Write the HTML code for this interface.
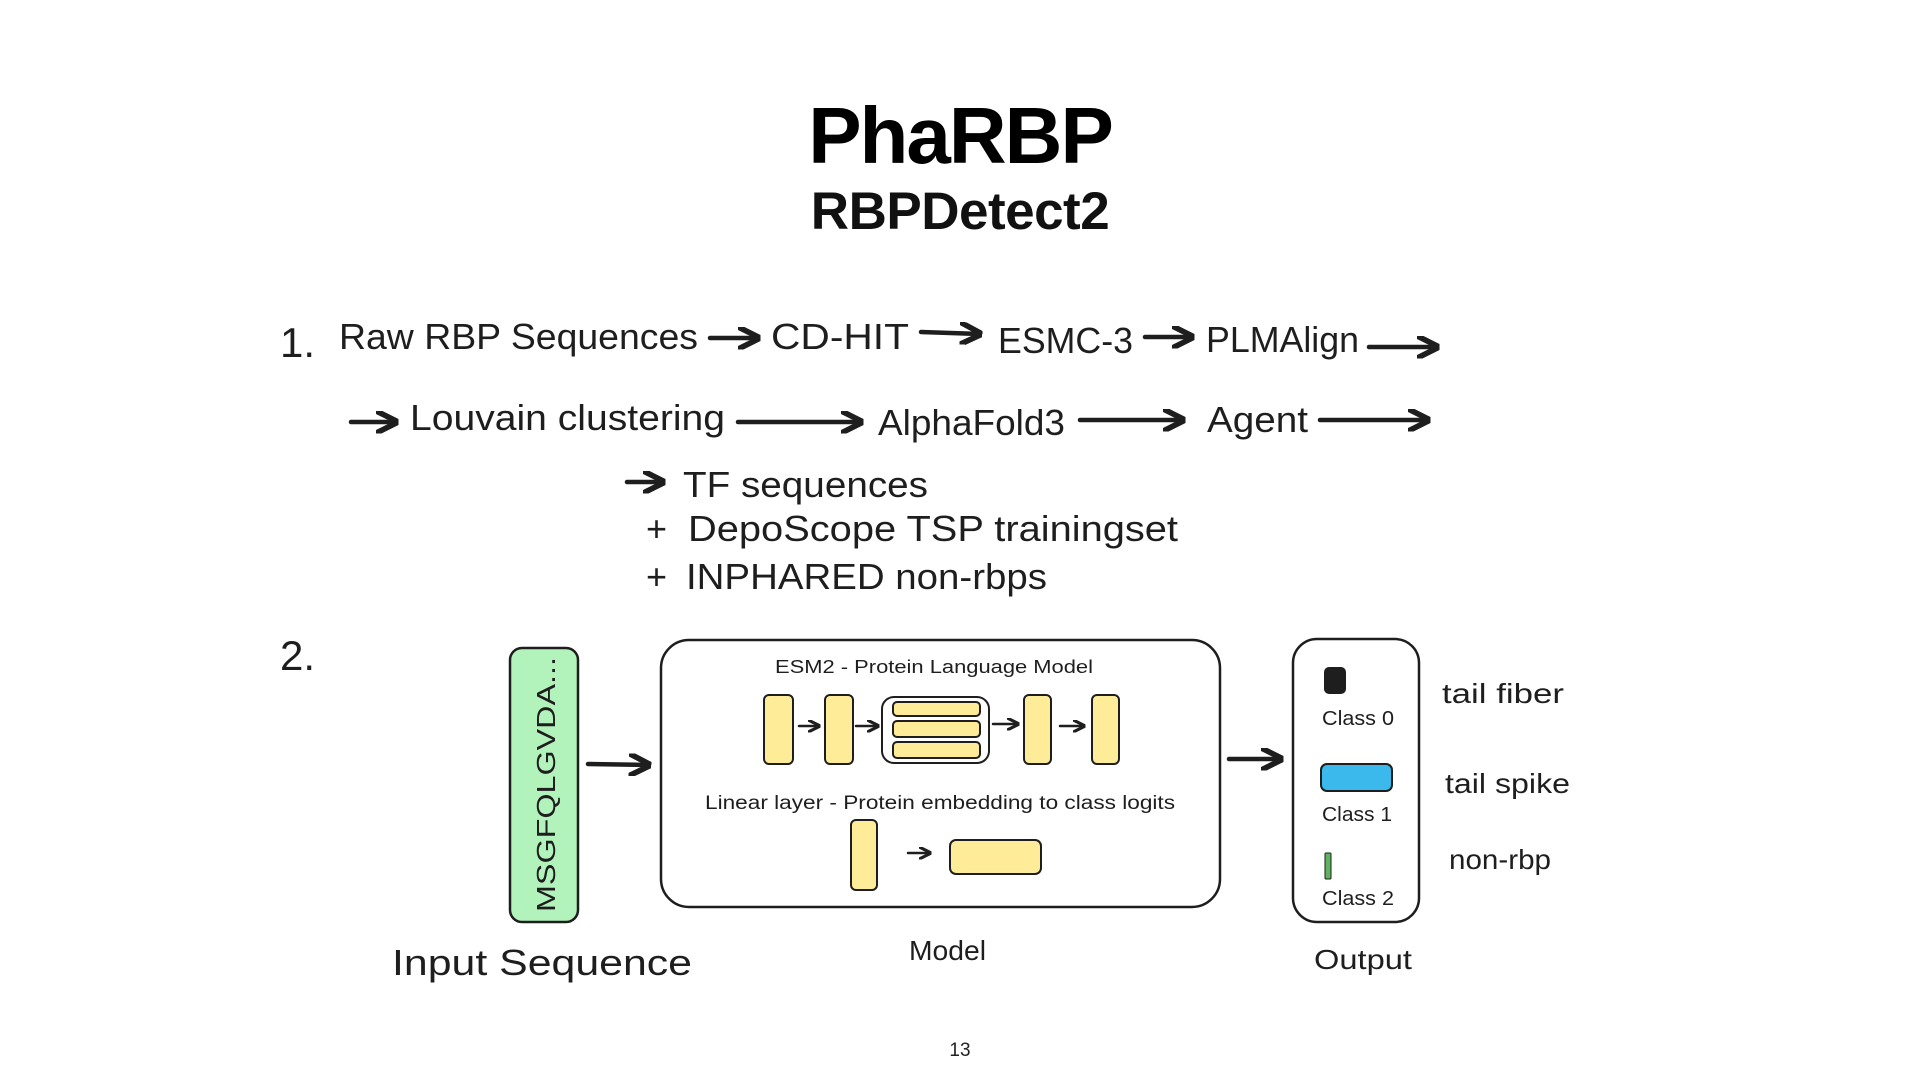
<!DOCTYPE html>
<html><head><meta charset="utf-8"><style>
html,body{margin:0;padding:0;background:#fff;}
svg{display:block}
.h{font-family:"Liberation Sans",sans-serif;fill:#1e1e1e;}
</style></head><body>
<svg width="1920" height="1080" viewBox="0 0 1920 1080" xmlns="http://www.w3.org/2000/svg">
<defs>
<marker id="ah" viewBox="0 0 10 10" refX="9" refY="5" markerWidth="5" markerHeight="5" orient="auto"><path d="M0,0 L10,5 L0,10" fill="none" stroke="#1e1e1e" stroke-width="2.5" stroke-linejoin="round"/></marker>
</defs>
<text x="960" y="163" text-anchor="middle" font-family="Liberation Sans" font-weight="bold" font-size="80" fill="#000" letter-spacing="-2">PhaRBP</text>
<text x="960" y="229" text-anchor="middle" font-family="Liberation Sans" font-weight="bold" font-size="53" fill="#111" letter-spacing="-0.5">RBPDetect2</text>

<g class="h" font-size="36">
<text x="280" y="357" font-size="42">1.</text>
<text x="339" y="349" textLength="359" lengthAdjust="spacingAndGlyphs">Raw RBP Sequences</text>
<text x="771" y="349" textLength="138" lengthAdjust="spacingAndGlyphs">CD-HIT</text>
<text x="998" y="353" textLength="135" lengthAdjust="spacingAndGlyphs">ESMC-3</text>
<text x="1206" y="352" textLength="153" lengthAdjust="spacingAndGlyphs">PLMAlign</text>
<text x="410" y="430" textLength="315" lengthAdjust="spacingAndGlyphs">Louvain clustering</text>
<text x="878" y="435" textLength="187" lengthAdjust="spacingAndGlyphs">AlphaFold3</text>
<text x="1207" y="432" textLength="101" lengthAdjust="spacingAndGlyphs">Agent</text>
<text x="683" y="497" textLength="245" lengthAdjust="spacingAndGlyphs">TF sequences</text>
<text x="646" y="541">+</text>
<text x="688" y="541" textLength="490" lengthAdjust="spacingAndGlyphs">DepoScope TSP trainingset</text>
<text x="646" y="589">+</text>
<text x="686" y="589" textLength="361" lengthAdjust="spacingAndGlyphs">INPHARED non-rbps</text>
<text x="280" y="670" font-size="42">2.</text>
<text x="392" y="975" textLength="300" lengthAdjust="spacingAndGlyphs">Input Sequence</text>
<text x="909" y="960" font-size="28" textLength="77" lengthAdjust="spacingAndGlyphs">Model</text>
<text x="1314" y="969" font-size="28" textLength="98" lengthAdjust="spacingAndGlyphs">Output</text>
<text x="1442" y="703" font-size="28" textLength="122" lengthAdjust="spacingAndGlyphs">tail fiber</text>
<text x="1445" y="793" font-size="28" textLength="125" lengthAdjust="spacingAndGlyphs">tail spike</text>
<text x="1449" y="869" font-size="28" textLength="102" lengthAdjust="spacingAndGlyphs">non-rbp</text>
</g>

<g stroke="#1e1e1e" stroke-width="4.5" fill="none" stroke-linecap="round" marker-end="url(#ah)">
<line x1="710" y1="338" x2="758" y2="338"/>
<line x1="921" y1="332" x2="980" y2="334"/>
<line x1="1145" y1="337" x2="1192" y2="337"/>
<line x1="1369" y1="347" x2="1437" y2="347"/>
<line x1="351" y1="422" x2="396" y2="422"/>
<line x1="738" y1="422" x2="861" y2="422"/>
<line x1="1080" y1="420" x2="1183" y2="420"/>
<line x1="1320" y1="420" x2="1428" y2="420"/>
<line x1="627" y1="482" x2="663" y2="482"/>
<line x1="588" y1="764" x2="649" y2="765"/>
<line x1="1229" y1="759" x2="1281" y2="759"/>
</g>

<rect x="510" y="648" width="68" height="274" rx="12" fill="#b2f2bb" stroke="#1e1e1e" stroke-width="2.5"/>
<text transform="translate(555,912) rotate(-90)" font-family="Liberation Sans" font-size="26" fill="#1e1e1e" textLength="255" lengthAdjust="spacingAndGlyphs">MSGFQLGVDA...</text>

<rect x="661" y="640" width="559" height="267" rx="28" fill="#fff" stroke="#1e1e1e" stroke-width="2.5"/>
<text x="934" y="673" text-anchor="middle" font-family="Liberation Sans" font-size="18" fill="#1e1e1e" textLength="318" lengthAdjust="spacingAndGlyphs">ESM2 - Protein Language Model</text>
<text x="940" y="809" text-anchor="middle" font-family="Liberation Sans" font-size="19" fill="#1e1e1e" textLength="470" lengthAdjust="spacingAndGlyphs">Linear layer - Protein embedding to class logits</text>
<g fill="#ffec99" stroke="#1e1e1e" stroke-width="2">
<rect x="764" y="695" width="29" height="69" rx="5"/>
<rect x="825" y="695" width="28" height="69" rx="5"/>
<rect x="1024" y="695" width="27" height="69" rx="5"/>
<rect x="1092" y="695" width="27" height="69" rx="5"/>
<rect x="882" y="697" width="107" height="66" rx="12" fill="#fff"/>
<rect x="893" y="702" width="87" height="14" rx="4"/>
<rect x="893" y="721" width="87" height="16" rx="4"/>
<rect x="893" y="742" width="87" height="16" rx="4"/>
<rect x="851" y="820" width="26" height="70" rx="5"/>
<rect x="950" y="840" width="91" height="34" rx="6"/>
</g>
<g stroke="#1e1e1e" stroke-width="2.5" fill="none" stroke-linecap="round" marker-end="url(#ah)">
<line x1="799" y1="726" x2="819" y2="726"/>
<line x1="856" y1="726" x2="878" y2="726"/>
<line x1="993" y1="724" x2="1018" y2="724"/>
<line x1="1060" y1="726" x2="1084" y2="726"/>
<line x1="908" y1="853" x2="930" y2="853"/>
</g>

<rect x="1293" y="639" width="126" height="283" rx="24" fill="#fff" stroke="#1e1e1e" stroke-width="2.5"/>
<rect x="1324" y="667" width="22" height="27" rx="5" fill="#1e1e1e"/>
<rect x="1321" y="764" width="71" height="27" rx="6" fill="#3bb9ec" stroke="#1e1e1e" stroke-width="2"/>
<rect x="1325" y="853" width="6" height="26" rx="1" fill="#5fb35f" stroke="#1e1e1e" stroke-width="1"/>
<g font-family="Liberation Sans" font-size="20" fill="#1e1e1e">
<text x="1322" y="725" textLength="72" lengthAdjust="spacingAndGlyphs">Class 0</text>
<text x="1322" y="821" textLength="70" lengthAdjust="spacingAndGlyphs">Class 1</text>
<text x="1322" y="905" textLength="72" lengthAdjust="spacingAndGlyphs">Class 2</text>
</g>

<text x="960" y="1056" text-anchor="middle" font-family="Liberation Sans" font-size="19" fill="#222">13</text>
</svg>
</body></html>
